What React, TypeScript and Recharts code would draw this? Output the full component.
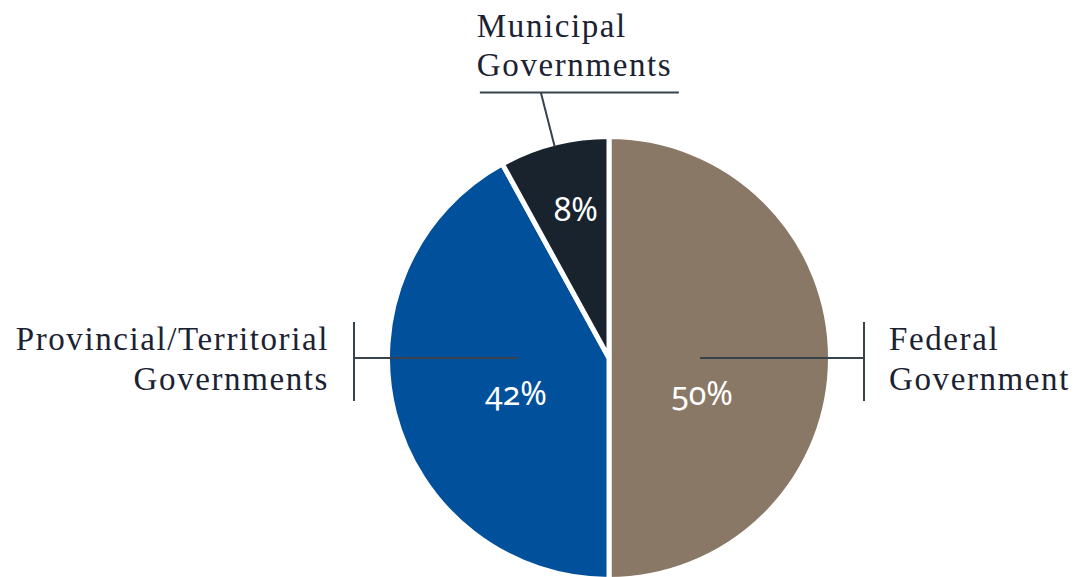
import React from "react";
import { PieChart, Pie, Cell } from "recharts";

// share of spending by order of government (%)
const categories = ["Federal Government", "Provincial/Territorial Governments", "Municipal Governments"];
const labelLines = [
  ["Federal", "Government"],
  ["Provincial/Territorial", "Governments"],
  ["Municipal", "Governments"],
];
const shares = [50, 42, 8];

const COLORS = ["#8a7866", "#00509c", "#18232d"];
const LINE = "#37434d";
const TEXT = "#1b2232";
const SERIF = "'Liberation Serif', 'Times New Roman', serif";
const SANS = "'Noto Sans', Lato, sans-serif";

const data = categories.map((name, i) => ({ name, value: shares[i] }));

const RAD = Math.PI / 180;

function Pct({ x, y, value }: { x: number; y: number; value: number }) {
  return (
    <text
      x={x}
      y={y}
      fill="#fff"
      fontFamily={SANS}
      fontSize={32}
      textAnchor="middle"
      style={{ fontVariantNumeric: "oldstyle-nums" }}
    >
      {`${value}%`}
    </text>
  );
}

function renderLabel(props: any) {
  const { cx, cy, midAngle, outerRadius, index, value } = props;
  const c = Math.cos(midAngle * RAD);
  const s = Math.sin(midAngle * RAD);
  const edge = outerRadius - 2.5;
  const lines = labelLines[index];

  if (Math.abs(c) > 0.7) {
    // side slices: horizontal leader through the centre line
    const dir = c > 0 ? 1 : -1;
    const tickX = cx + dir * 255;
    const textX = cx + dir * 280;
    return (
      <g>
        <line x1={cx + dir * 91} y1={cy} x2={tickX} y2={cy} stroke={LINE} strokeWidth={2} />
        <line x1={tickX} y1={cy - 36} x2={tickX} y2={cy + 43} stroke={LINE} strokeWidth={2} />
        <Pct x={cx + dir * 93} y={cy + 47} value={value} />
        <text
          x={textX}
          y={cy - 8}
          fill={TEXT}
          fontFamily={SERIF}
          fontSize={33}
          letterSpacing={1.6}
          textAnchor={dir > 0 ? "start" : "end"}
        >
          <tspan x={textX} dy={0}>{lines[0]}</tspan>
          <tspan x={textX} dy={40}>{lines[1]}</tspan>
        </text>
      </g>
    );
  }

  // top slice: radial leader, then a rule under the label
  const ex = cx + edge * c;
  const ey = cy - edge * s;
  const ox = cx + (edge + 55) * c;
  const oy = cy - (edge + 55) * s;
  return (
    <g>
      <line x1={ex} y1={ey} x2={ox} y2={oy} stroke={LINE} strokeWidth={2} />
      <line x1={ox - 61} y1={oy} x2={ox + 138} y2={oy} stroke={LINE} strokeWidth={2} />
      <Pct x={cx + 0.7 * edge * c + 5} y={cy - 0.7 * edge * s + 11} value={value} />
      <text x={ox - 64} y={oy - 56} fill={TEXT} fontFamily={SERIF} fontSize={33} letterSpacing={1.6}>
        <tspan x={ox - 64} dy={0}>{lines[0]}</tspan>
        <tspan x={ox - 64} dy={39}>{lines[1]}</tspan>
      </text>
    </g>
  );
}

export default function App() {
  return (
    <div style={{ position: "absolute", left: 0, top: 0, background: "#fff" }}>
      <PieChart width={1080} height={577} margin={{ top: 0, right: 0, bottom: 0, left: 0 }}>
        <Pie
          data={data}
          dataKey="value"
          nameKey="name"
          cx={609}
          cy={358}
          outerRadius={221.5}
          startAngle={90}
          endAngle={-270}
          stroke="#fff"
          strokeWidth={5}
          label={renderLabel}
          labelLine={false}
          isAnimationActive={false}
        >
          {data.map((d, i) => (
            <Cell key={d.name} fill={COLORS[i]} />
          ))}
        </Pie>
      </PieChart>
    </div>
  );
}
